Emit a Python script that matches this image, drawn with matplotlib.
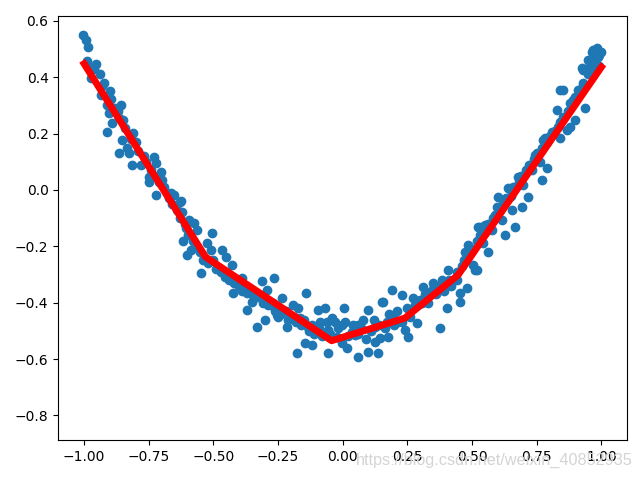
import matplotlib
matplotlib.use("Agg")
import matplotlib.pyplot as plt

# scatter points: separate blobs / outliers
x_pts = [-1.004, -0.992, -0.984, -0.988, -0.953, -0.969, -0.973, -0.922, -0.934, -0.895,
         -0.911, -0.857, -0.903, -0.864, -0.891, -0.911, -0.810, -0.853, -0.833, -0.864,
         -0.826, -0.729, -0.814, -0.779, -0.721, -0.702, -0.748, -0.748, -0.698, -0.721,
         -0.663, -0.624, -0.651, -0.628, -0.620, -0.593, -0.574, -0.605, -0.562, -0.504,
         -0.616, -0.585, -0.601, -0.523, -0.508, -0.465, -0.450, -0.547, -0.484, -0.430,
         -0.457, -0.391, -0.426, -0.372, -0.314, -0.267, -0.291, -0.349, -0.372, -0.264,
         -0.236, -0.333, -0.302, -0.252, -0.256, -0.217, -0.194, -0.174, -0.143, -0.167,
         -0.136, -0.147, -0.120, -0.178, -0.097, -0.070, -0.089, -0.043, -0.058, -0.004,
         0.004, -0.023, -0.058, -0.004, 0.016, 0.035, 0.078, 0.097, 0.058, 0.124,
         0.151, 0.124, 0.097, 0.058, 0.136, 0.047, 0.143, 0.163, 0.155, 0.190,
         0.194, 0.174, 0.213, 0.229, 0.252, 0.240, 0.271, 0.287, 0.310, 0.337,
         0.306, 0.349, 0.384, 0.403, 0.376, 0.407, 0.453, 0.453, 0.481, 0.442,
         0.473, 0.484, 0.504, 0.519, 0.523, 0.512, 0.562, 0.543, 0.531, 0.550,
         0.578, 0.628, 0.667, 0.616, 0.597, 0.655, 0.694, 0.601, 0.640, 0.678,
         0.717, 0.698, 0.733, 0.771, 0.791, 0.744, 0.764, 0.783, 0.810, 0.833,
         0.829, 0.841, 0.775, 0.841, 0.868, 0.880, 0.899, 0.853, 0.938, 0.891,
         0.911, 0.930, 0.926, 0.957, 0.950, 0.969, 0.988, 0.965, 0.984]
y_pts = [0.551, 0.533, 0.508, 0.458, 0.448, 0.434, 0.398, 0.380, 0.338, 0.323,
         0.302, 0.302, 0.274, 0.256, 0.238, 0.206, 0.203, 0.178, 0.149, 0.131,
         0.131, 0.117, 0.089, 0.089, 0.096, 0.064, 0.046, 0.028, 0.036, -0.018,
         -0.011, -0.039, -0.018, -0.043, -0.078, -0.107, -0.117, -0.135, -0.142, -0.153,
         -0.181, -0.213, -0.231, -0.188, -0.213, -0.213, -0.238, -0.295, -0.277, -0.267,
         -0.309, -0.313, -0.366, -0.366, -0.323, -0.313, -0.355, -0.398, -0.426, -0.416,
         -0.384, -0.487, -0.462, -0.451, -0.444, -0.487, -0.409, -0.419, -0.366, -0.455,
         -0.487, -0.544, -0.551, -0.579, -0.426, -0.419, -0.469, -0.455, -0.498, -0.480,
         -0.419, -0.522, -0.579, -0.544, -0.561, -0.505, -0.462, -0.426, -0.480, -0.487,
         -0.398, -0.540, -0.576, -0.593, -0.579, -0.515, -0.526, -0.490, -0.398, -0.355,
         -0.451, -0.522, -0.469, -0.373, -0.522, -0.498, -0.384, -0.473, -0.345, -0.362,
         -0.402, -0.330, -0.320, -0.419, -0.490, -0.284, -0.366, -0.398, -0.348, -0.320,
         -0.220, -0.195, -0.267, -0.284, -0.131, -0.284, -0.220, -0.188, -0.131, -0.124,
         -0.142, -0.160, -0.131, -0.107, -0.060, -0.071, -0.060, -0.025, 0.007, 0.046,
         -0.025, 0.018, 0.071, 0.036, 0.078, 0.124, 0.100, 0.185, 0.206, 0.224,
         0.284, 0.355, 0.178, 0.185, 0.213, 0.224, 0.249, 0.355, 0.291, 0.320,
         0.355, 0.426, 0.434, 0.444, 0.462, 0.498, 0.473, 0.490, 0.505]

# points of the dense band along the fitted line
x_band = [-0.96, -0.94, -0.93, -0.90, -0.88, -0.87, -0.85, -0.84, -0.82, -0.80,
          -0.79, -0.77, -0.76, -0.74, -0.73, -0.71, -0.69, -0.68, -0.67, -0.66,
          -0.64, -0.63, -0.61, -0.60, -0.58, -0.57, -0.55, -0.54, -0.52, -0.50,
          -0.49, -0.47, -0.45, -0.44, -0.42, -0.40, -0.39, -0.37, -0.35, -0.33,
          -0.31, -0.29, -0.27, -0.26, -0.24, -0.22, -0.21, -0.19, -0.18, -0.16,
          -0.15, -0.13, -0.12, -0.11, -0.09, -0.08, -0.06, -0.05, -0.03, -0.02,
          0.01, 0.02, 0.04, 0.06, 0.07, 0.09, 0.11, 0.12, 0.14, 0.17,
          0.18, 0.20, 0.21, 0.23, 0.25, 0.26, 0.28, 0.30, 0.32, 0.33,
          0.35, 0.36, 0.38, 0.39, 0.41, 0.42, 0.44, 0.46, 0.47, 0.49,
          0.50, 0.52, 0.53, 0.55, 0.56, 0.58, 0.59, 0.61, 0.62, 0.63,
          0.65, 0.66, 0.68, 0.69, 0.71, 0.72, 0.74, 0.75, 0.77, 0.79,
          0.80, 0.82, 0.84, 0.85, 0.87, 0.88, 0.90, 0.92, 0.93, 0.95,
          0.96, 0.97, 0.99, 1.00, 0.99]
y_band = [0.43, 0.41, 0.37, 0.35, 0.29, 0.28, 0.25, 0.22, 0.18, 0.17,
          0.14, 0.12, 0.10, 0.07, 0.05, 0.03, 0.01, -0.01, -0.03, -0.05,
          -0.07, -0.10, -0.12, -0.16, -0.18, -0.20, -0.22, -0.25, -0.26, -0.25,
          -0.28, -0.29, -0.30, -0.32, -0.33, -0.34, -0.36, -0.35, -0.37, -0.38,
          -0.40, -0.41, -0.40, -0.43, -0.44, -0.43, -0.46, -0.45, -0.47, -0.48,
          -0.46, -0.50, -0.48, -0.51, -0.49, -0.52, -0.47, -0.51, -0.47, -0.49,
          -0.47, -0.52, -0.48, -0.51, -0.49, -0.53, -0.50, -0.46, -0.48, -0.47,
          -0.44, -0.48, -0.43, -0.47, -0.42, -0.45, -0.41, -0.39, -0.37, -0.40,
          -0.35, -0.37, -0.34, -0.36, -0.32, -0.34, -0.29, -0.27, -0.25, -0.23,
          -0.21, -0.18, -0.16, -0.15, -0.12, -0.10, -0.09, -0.07, -0.05, -0.03,
          -0.02, 0.01, 0.03, 0.05, 0.07, 0.09, 0.11, 0.13, 0.15, 0.17,
          0.19, 0.21, 0.24, 0.26, 0.28, 0.31, 0.33, 0.36, 0.38, 0.41,
          0.43, 0.46, 0.48, 0.49, 0.44]

# fitted line vertices
line_x = [-1.0, -0.53, -0.043, 0.24, 0.446, 1.0]
line_y = [0.448, -0.238, -0.535, -0.455, -0.302, 0.436]

fig, ax = plt.subplots(figsize=(6.4, 4.8), dpi=100)
fig.subplots_adjust(left=0.091, right=0.98, top=0.967, bottom=0.083)

ax.scatter(x_pts + x_band, y_pts + y_band, color="C0")
ax.plot(line_x, line_y, 'r-', lw=5)
ax.set_xlim(-1.1, 1.1)
ax.set_ylim(-0.888, 0.618)

fig.text(0.988, 0.031, "https://blog.csdn.net/weixin_40852935", ha="right",
         color="#d4d4d4", fontsize=11.7, family="Liberation Sans")

fig.savefig("out.png")
